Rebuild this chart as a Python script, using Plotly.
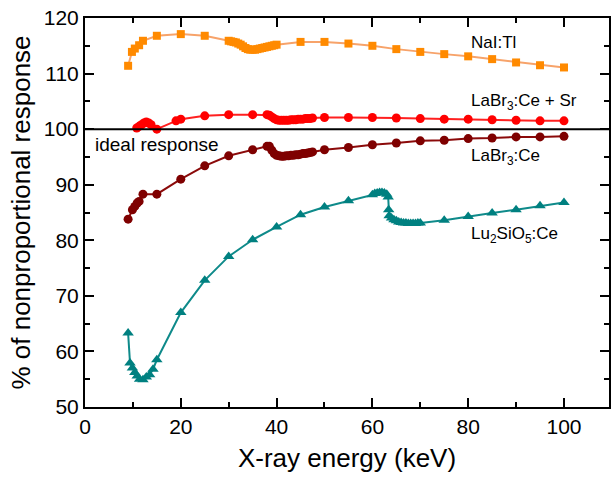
import plotly.graph_objects as go

# ---------------- data ----------------
nai_x = [9.0, 9.8, 10.4, 11.3, 12.1, 15, 20, 25, 30, 30.5, 31, 31.5, 32, 32.5, 33, 33.5,
         34, 34.5, 35, 35.5, 36, 36.5, 37, 37.5, 38, 38.5, 39, 39.5, 40,
         45, 50, 55, 60, 65, 70, 75, 80, 85, 90, 95, 100]
nai_y = [111.4, 113.9, 114.5, 115.1, 115.9, 116.8, 117.1, 116.8, 115.9, 115.8, 115.7, 115.6,
         115.4, 115.2, 114.9, 114.6, 114.4, 114.3, 114.3, 114.3, 114.4, 114.5, 114.6, 114.7,
         114.8, 114.9, 115.0, 115.1, 115.2,
         115.7, 115.7, 115.4, 115.0, 114.4, 113.9, 113.5, 113.1, 112.6, 112.0, 111.5, 111.1]

sr_x = [10.8, 11.3, 11.8, 12.3, 12.8, 13.3, 13.8, 15, 19, 20, 25, 30, 35, 38, 38.5, 39,
        39.5, 40, 40.5, 41, 41.5, 42, 42.5, 43, 43.5, 44, 44.5, 45, 45.5, 46, 46.5, 47, 47.5,
        50, 55, 60, 65, 70, 75, 80, 85, 90, 95, 100]
sr_y = [100.2, 100.5, 100.8, 101.1, 101.3, 101.1, 100.8, 100.0, 101.5, 101.8, 102.4, 102.6,
        102.6, 102.6, 102.5, 102.2, 101.9, 101.7, 101.6, 101.6, 101.6, 101.6, 101.6, 101.7,
        101.7, 101.7, 101.8, 101.8, 101.8, 101.9, 101.9, 101.9, 102.0,
        102.1, 102.1, 102.1, 102.0, 101.9, 101.8, 101.8, 101.7, 101.6, 101.5, 101.5]

la_x = [9.0, 9.9, 10.4, 10.9, 11.3, 12.1, 15, 20, 25, 30, 35, 38, 38.5, 39, 39.5, 40, 40.5,
        41, 41.5, 42, 42.5, 43, 43.5, 44, 44.5, 45, 45.5, 46, 46.5, 47, 47.5,
        50, 55, 60, 65, 70, 75, 80, 85, 90, 95, 100]
la_y = [83.8, 85.5, 86.1, 86.7, 87.0, 88.3, 88.3, 91.0, 93.4, 95.2, 96.3, 96.9, 96.9, 96.2,
        95.6, 95.3, 95.2, 95.1, 95.1, 95.2, 95.2, 95.3, 95.3, 95.4, 95.4, 95.5, 95.6, 95.6,
        95.7, 95.8, 95.9,
        96.3, 96.7, 97.2, 97.5, 97.9, 98.0, 98.3, 98.4, 98.6, 98.6, 98.7]

lu_x = [9.0, 9.4, 9.9, 10.4, 10.9, 11.4, 12.1, 12.8, 13.5, 14.2, 15, 20, 25, 30, 35, 40, 45,
        50, 55, 60, 60.5, 61, 61.5, 62, 62.5, 63, 63.3, 63.4, 63.5, 64, 64.5, 65, 65.5, 66,
        66.5, 67, 67.5, 68, 68.5, 69, 69.5, 70, 75, 80, 85, 90, 95, 100]
lu_y = [63.3, 57.9, 57.0, 56.2, 55.6, 55.0, 54.9, 55.4, 55.8, 56.8, 58.5, 67.0, 72.8, 77.1,
        80.1, 82.4, 84.6, 86.0, 87.1, 88.2, 88.4, 88.5, 88.6, 88.6, 88.5, 88.3, 87.8, 85.5,
        84.4, 84.0, 83.7, 83.5, 83.3, 83.2, 83.1, 83.1, 83.0, 83.0, 83.0, 83.0, 83.1, 83.1,
        83.6, 84.3, 84.9, 85.5, 86.2, 86.8]

ideal_level = 100
x_ticks = [0, 20, 40, 60, 80, 100]
y_ticks = [50, 60, 70, 80, 90, 100, 110, 120]

FONT = "Arial, Liberation Sans, sans-serif"

fig = go.Figure()

series = [
    (nai_x, nai_y, "#F7A36A", "#FF8A00", "square", 8),
    (sr_x, sr_y, "#FF2020", "#FF0000", "circle", 9),
    (la_x, la_y, "#8B0A0A", "#7F0000", "circle", 9),
    (lu_x, lu_y, "#0E8A8A", "#008080", "triangle-up", 10),
]
for xs, ys, lc, mc, sym, sz in series:
    fig.add_trace(go.Scatter(
        x=xs, y=ys, mode="lines+markers",
        line=dict(color=lc, width=2),
        marker=dict(color=mc, symbol=sym, size=sz, line=dict(width=0)),
        showlegend=False))

fig.add_shape(type="line", xref="paper", yref="y", x0=0, x1=1,
              y0=ideal_level, y1=ideal_level, line=dict(color="black", width=2))

ann = dict(xref="x", yref="y", showarrow=False, xanchor="left", yanchor="middle",
           font=dict(family=FONT, size=17, color="black"))
fig.add_annotation(x=80.2, y=115.6, text="NaI:Tl", **ann)
fig.add_annotation(x=80.2, y=104.9, text="LaBr<sub>3</sub>:Ce + Sr", **ann)
fig.add_annotation(x=80.2, y=95.0, text="LaBr<sub>3</sub>:Ce", **ann)
fig.add_annotation(x=80.2, y=80.9, text="Lu<sub>2</sub>SiO<sub>5</sub>:Ce", **ann)
fig.add_annotation(x=1.6, y=97.3, text="ideal response",
                   **{**ann, "font": dict(family=FONT, size=19, color="black")})

axis_common = dict(
    showline=True, linecolor="black", linewidth=2, mirror="allticks",
    ticks="inside", ticklen=9, tickwidth=2, tickcolor="black",
    showgrid=False, zeroline=False,
    tickfont=dict(family=FONT, size=21, color="black"),
)

fig.update_xaxes(range=[0, 109.4], tickvals=x_ticks,
                 minor=dict(dtick=10, tick0=0, ticks="inside", ticklen=5, tickwidth=2,
                            tickcolor="black", showgrid=False),
                 title=dict(text="X-ray energy (keV)",
                            font=dict(family=FONT, size=26, color="black"), standoff=12),
                 **axis_common)
fig.update_yaxes(range=[50, 120], tickvals=y_ticks,
                 minor=dict(dtick=5, tick0=0, ticks="inside", ticklen=5, tickwidth=2,
                            tickcolor="black", showgrid=False),
                 title=dict(text="% of nonproportional response",
                            font=dict(family=FONT, size=26, color="black"), standoff=6),
                 **axis_common)

fig.update_layout(width=612, height=481,
                  margin=dict(l=85, r=1, t=18, b=74, pad=0),
                  plot_bgcolor="white", paper_bgcolor="white")

fig.write_html("out.html")
